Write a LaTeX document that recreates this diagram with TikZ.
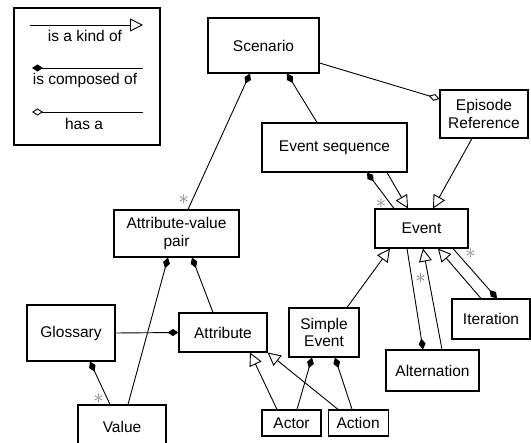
\documentclass[tikz,border=0pt]{standalone}
\usepackage{fontspec}
\setmainfont{Liberation Sans}
\usetikzlibrary{positioning, arrows.meta}

\tikzset{
  box/.style={draw, line width=1.1pt, align=center, inner sep=0pt},
  kindof/.style={-{Triangle[open, length=13pt, width=13pt]}, line width=0.9pt},
  partof/.style={{Diamond[length=11pt, width=7pt]}-, line width=0.9pt},
  hasa/.style={-{Diamond[open, length=11pt, width=7pt]}, line width=0.9pt},
  many/.style={font=\fontsize{20}{20}\selectfont, text=gray, inner sep=0pt},
}

\begin{document}
\begin{tikzpicture}[x=1pt, y=-1pt, font=\fontsize{15.5}{17.5}\selectfont]
    \useasboundingbox (0,0) rectangle (531,443);

    % legend
    \node[box, minimum width=146pt, minimum height=137pt] (legend) at (87,76.5) {};
    \coordinate (k1) at (30,25);  \coordinate (k2) at (143,25);
    \coordinate (c1) at (32,68);  \coordinate (c2) at (143,68);
    \coordinate (h1) at (32,112); \coordinate (h2) at (143,112);
    \draw[kindof] (k1) -- (k2);
    \draw[partof] (c1) -- (c2);
    \draw[hasa] (h2) -- (h1);
    \node (kindtext) at (85,36) {is a kind of};
    \node (comptext) at (85,80) {is composed of};
    \node (hastext) at (84,124) {has a};

    % classes
    \node[box, minimum width=111pt, minimum height=55pt] (scenario) at (263.5,45.5) {Scenario};
    \node[box, minimum width=88pt, minimum height=48pt] (episode) at (484,114) {Episode\\Reference};
    \node[box, minimum width=145pt, minimum height=49pt] (evseq) at (334.5,147.5) {Event sequence};
    \node[box, minimum width=93pt, minimum height=39pt] (event) at (421.5,228.5) {Event};
    \node[box, minimum width=125pt, minimum height=47pt] (avpair) at (176.5,233.5) {Attribute-value\\pair};
    \node[box, minimum width=88pt, minimum height=56pt] (glossary) at (71,333) {Glossary};
    \node[box, minimum width=88pt, minimum height=39pt] (attribute) at (223,332.5) {Attribute};
    \node[box, minimum width=88pt, minimum height=43pt] (value) at (122,426.5) {Value};
    \node[box, minimum width=70pt, minimum height=49pt] (simple) at (324,332.5) {Simple\\Event};
    \node[box, minimum width=93pt, minimum height=41pt] (alternation) at (432.5,370.5) {Alternation};
    \node[box, minimum width=78pt, minimum height=40pt] (iteration) at (491,319) {Iteration};
    \node[box, minimum width=59pt, minimum height=26pt] (actor) at (291.5,423) {Actor};
    \node[box, minimum width=60pt, minimum height=26pt, right=6pt of actor] (action) {Action};

    % scenario
    \draw[partof] ([xshift=-13.5pt]scenario.south) -- ([xshift=11.5pt]avpair.north)
        node[many, pos=0.93, left=3pt] {$\ast$};
    \draw[partof] ([xshift=23.5pt]scenario.south) -- ([xshift=-17.5pt]evseq.north);
    \draw[hasa] ([yshift=-17.5pt]scenario.east) -- ([yshift=15pt]episode.west);

    % event
    \draw[kindof] ([xshift=-12pt]episode.south) -- ([xshift=11.5pt]event.north);
    \draw[kindof] ([xshift=52.5pt]evseq.south) -- ([xshift=-13.5pt]event.north);
    \draw[partof] ([xshift=32.5pt]evseq.south) -- ([xshift=-27.5pt]event.north)
        node[many, pos=0.88, left=4pt] {$\ast$};
    \draw[kindof] ([xshift=23pt]simple.north) -- ([xshift=-31.5pt]event.south);
    \draw[partof] ([xshift=-9.5pt]alternation.north) -- ([xshift=-14.5pt]event.south)
        node[many, pos=0.7, right=3pt] {$\ast$};
    \draw[kindof] ([xshift=9.5pt]alternation.north) -- ([xshift=1.5pt]event.south);
    \draw[kindof] ([xshift=-10pt]iteration.north) -- ([xshift=16.5pt]event.south);
    \draw[partof] ([xshift=6pt]iteration.north) -- ([xshift=31.5pt]event.south)
        node[many, pos=0.8, above right=0pt and 3pt] {$\ast$};

    % attributes
    \draw[partof] ([xshift=-8.5pt]avpair.south) -- ([xshift=6pt]value.north);
    \draw[partof] ([xshift=15.5pt]avpair.south) -- ([xshift=-10pt]attribute.north);
    \draw[partof] (attribute.west) -- (glossary.east);
    \draw[partof] ([xshift=19pt]glossary.south) -- ([xshift=-12pt]value.north)
        node[many, pos=0.86, left=3pt] {$\ast$};
    \draw[kindof] ([xshift=-14.5pt]actor.north) -- ([xshift=27pt]attribute.south);
    \draw[kindof] ([xshift=-20pt]action.north) -- (attribute.south east);
    \draw[partof] ([xshift=-12pt]simple.south) -- ([xshift=5.5pt]actor.north);
    \draw[partof] ([xshift=11pt]simple.south) -- ([xshift=-6pt]action.north);
\end{tikzpicture}
\end{document}
